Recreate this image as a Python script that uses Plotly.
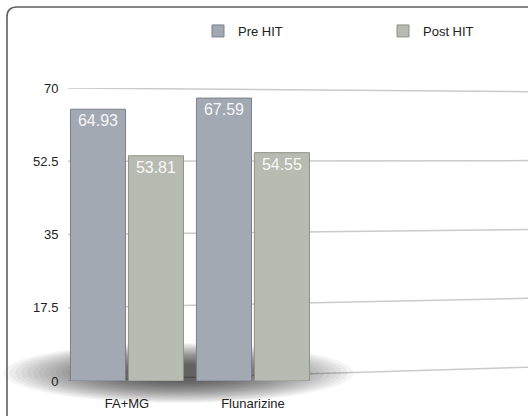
import plotly.graph_objects as go

# Values shown on the bars
categories = ["FA+MG", "Flunarizine"]
pre_hit = [64.93, 67.59]
post_hit = [53.81, 54.55]
y_ticks = [0, 17.5, 35, 52.5, 70]
y_tick_text = ["0", "17.5", "35", "52.5", "70"]

PRE_COLOR = "#a3a9b3"
POST_COLOR = "#b8bbb1"
FONT = "Helvetica, Arial, 'Liberation Sans', sans-serif"

W, H = 528, 416
M_L, M_R, M_T, M_B = 68, 0, 88, 35
X_RANGE = [-0.468, 3.183]


def fx(px):
    return (px - M_L) / (W - M_L - M_R)


def fy(py):
    return (H - M_B - py) / (H - M_T - M_B)


fig = go.Figure()
for name, vals, col, edge, leg in [("Pre HIT", pre_hit, PRE_COLOR, "#7b8089", "legend"),
                                   ("Post HIT", post_hit, POST_COLOR, "#8e9288", "legend2")]:
    fig.add_trace(go.Bar(
        name=name, x=categories, y=vals, legend=leg,
        marker=dict(color=col, line=dict(color=edge, width=1)),
        texttemplate="%{y:.2f}", textposition="inside", insidetextanchor="end",
        textfont=dict(color="rgba(255,255,255,0.92)", size=16, family=FONT),
        constraintext="none",
    ))

shapes = []
# receding gridlines (slight perspective toward the right)
for v in y_ticks:
    shapes.append(dict(type="line", xref="paper", yref="y", x0=0, x1=1,
                       y0=v, y1=v + 0.06 * (55 - v),
                       line=dict(color="#cacaca", width=1.5), layer="below"))

# soft floor shadow under the bars, built from stacked translucent ellipses
xmid = (0.5 - X_RANGE[0]) / (X_RANGE[1] - X_RANGE[0])
n = 22
for i in range(n):
    s = 1 - 0.7 * i / (n - 1)
    w, h = 350 * s, 60 * s
    shapes.append(dict(type="circle", xref="paper", yref="paper",
                       xsizemode="pixel", ysizemode="pixel",
                       xanchor=xmid - 0.025, yanchor=0,
                       x0=-w / 2, x1=w / 2, y0=8 - h / 2, y1=8 + h / 2,
                       fillcolor="black", opacity=0.04,
                       line=dict(width=0), layer="below"))

# rounded frame around the chart
r = 10
frame = (f"M {fx(7)},{fy(H + 20)} L {fx(7)},{fy(7 + r)} "
         f"Q {fx(7)},{fy(7)} {fx(7 + r)},{fy(7)} L {fx(W + 20)},{fy(7)}")
shapes.append(dict(type="path", xref="paper", yref="paper", path=frame,
                   line=dict(color="#5f5f5f", width=1.6)))

legend_style = dict(orientation="h", xanchor="left", yanchor="top",
                    y=fy(16), font=dict(size=13, color="#222222"),
                    bgcolor="rgba(0,0,0,0)")

fig.update_layout(
    width=W, height=H,
    margin=dict(l=M_L, r=M_R, t=M_T, b=M_B),
    paper_bgcolor="white", plot_bgcolor="rgba(0,0,0,0)",
    barmode="group", bargap=0.08, bargroupgap=0.05,
    font=dict(family=FONT, size=13, color="#222222"),
    shapes=shapes,
    showlegend=True,
    legend=dict(x=fx(198), **legend_style),
    legend2=dict(x=fx(383), **legend_style),
    xaxis=dict(range=X_RANGE, showgrid=False, zeroline=False, showline=False,
               ticks="outside", ticklen=10, tickcolor="rgba(0,0,0,0)",
               tickfont=dict(size=13)),
    yaxis=dict(range=[0, 70], tickvals=y_ticks, ticktext=y_tick_text,
               showgrid=False, zeroline=False, showline=False,
               ticks="outside", ticklen=6, tickcolor="rgba(0,0,0,0)",
               tickfont=dict(size=13)),
)

fig.write_html("out.html")
